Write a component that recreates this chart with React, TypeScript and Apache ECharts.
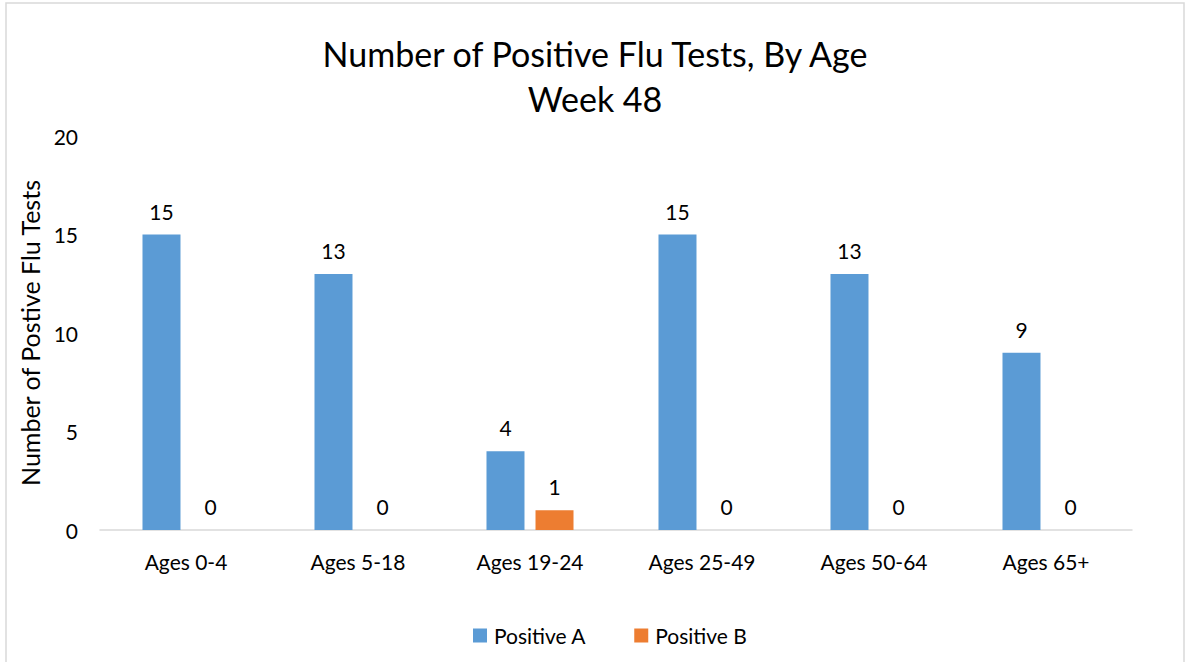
import React, { useEffect, useRef } from "react";
import * as echarts from "echarts";

const categories = ["Ages 0-4", "Ages 5-18", "Ages 19-24", "Ages 25-49", "Ages 50-64", "Ages 65+"];
const positiveA = [15, 13, 4, 15, 13, 9];
const positiveB = [0, 0, 1, 0, 0, 0];
const yTicks = { min: 0, max: 20, interval: 5 };

const FONT = "Lato, 'Open Sans', sans-serif";

export default function App() {
  const ref = useRef<HTMLDivElement>(null);
  useEffect(() => {
    document.body.style.margin = "0";
    const chart = echarts.init(ref.current!, null, { renderer: "svg" });
    const labelStyle = { show: true, position: "top" as const, distance: 13, color: "#000", fontSize: 21, fontFamily: FONT };
    chart.setOption({
      animation: false,
      backgroundColor: "#fff",
      textStyle: { fontFamily: FONT },
      title: {
        text: "Number of Positive Flu Tests, By Age\nWeek 48",
        left: "center",
        top: 26,
        textStyle: { fontSize: 34, fontWeight: "normal", color: "#000", lineHeight: 45, fontFamily: FONT },
      },
      graphic: [
        {
          type: "rect",
          shape: { x: 6, y: 3, width: 1178, height: 700 },
          style: { fill: "none", stroke: "#d9d9d9", lineWidth: 1.5 },
          silent: true,
        },
      ],
      legend: {
        bottom: 11,
        left: 468,
        itemWidth: 14,
        itemHeight: 14,
        itemGap: 48,
        icon: "rect",
        textStyle: { fontSize: 21, color: "#000", fontFamily: FONT, padding: [0, 0, 0, 2] },
        data: ["Positive A", "Positive B"],
      },
      grid: { left: 100, right: 58, top: 136, bottom: 132 },
      xAxis: {
        type: "category",
        data: categories,
        axisLine: { lineStyle: { color: "#d9d9d9", width: 1.5 } },
        axisTick: { show: false },
        axisLabel: { fontSize: 21, color: "#000", margin: 21, fontFamily: FONT },
      },
      yAxis: {
        type: "value",
        min: yTicks.min,
        max: yTicks.max,
        interval: yTicks.interval,
        name: "Number of Postive Flu Tests",
        nameLocation: "middle",
        nameGap: 56,
        nameTextStyle: { fontSize: 25, color: "#000", fontFamily: FONT },
        axisLine: { show: false },
        axisTick: { show: false },
        splitLine: { show: false },
        axisLabel: { fontSize: 21, color: "#000", margin: 22, fontFamily: FONT },
      },
      series: [
        {
          name: "Positive A",
          type: "bar",
          data: positiveA,
          barWidth: 38,
          barGap: "29%",
          itemStyle: { color: "#5b9bd5" },
          label: labelStyle,
        },
        {
          name: "Positive B",
          type: "bar",
          data: positiveB,
          barWidth: 38,
          itemStyle: { color: "#ed7d31" },
          label: labelStyle,
        },
      ],
    });
    return () => chart.dispose();
  }, []);
  return <div ref={ref} style={{ width: 1190, height: 662 }} />;
}
